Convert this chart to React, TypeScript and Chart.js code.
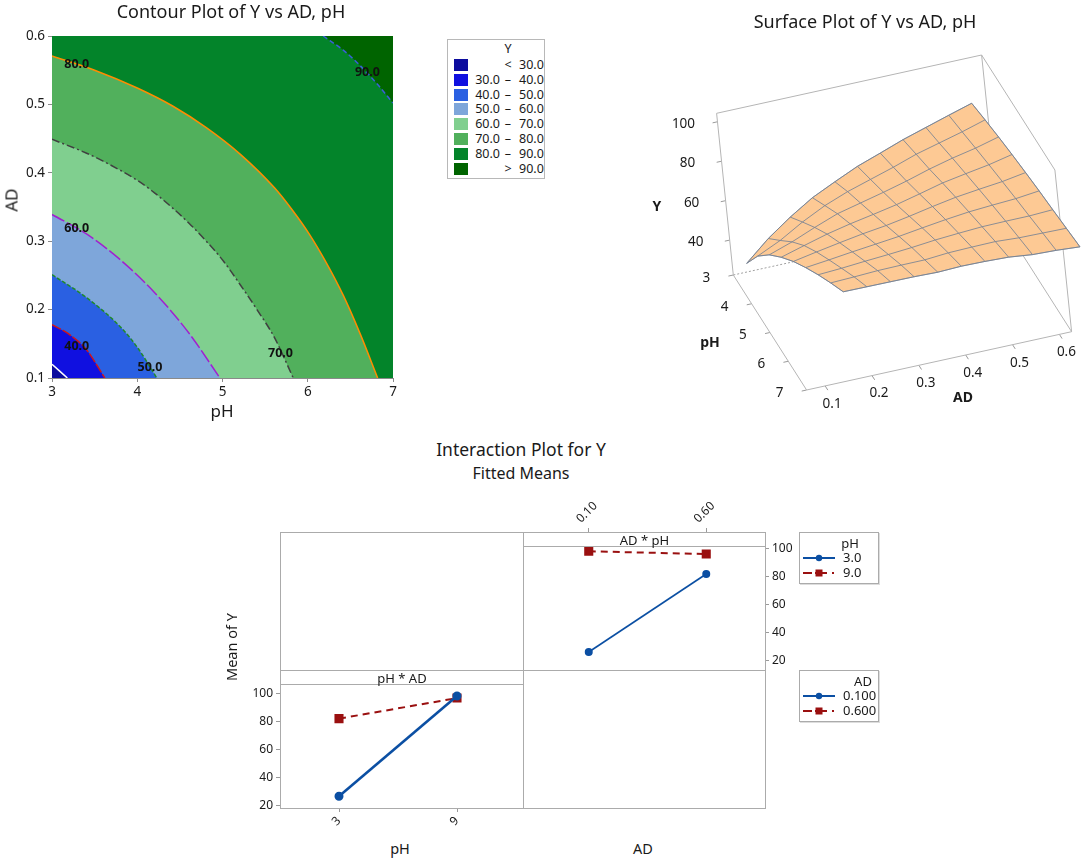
import { useEffect, useRef } from "react"
import { Chart, registerables, type ChartConfiguration, type Plugin } from "chart.js"

Chart.register(...registerables)

const FONT = "'Noto Sans', 'Open Sans', sans-serif"
const INK = "#1a1a1a"
const FRAME = "#ababab"

// ---------- contour plot (pH on x, AD on y), lines
const PH_TICKS = [3, 4, 5, 6, 7]
const AD_TICKS = [0.1, 0.2, 0.3, 0.4, 0.5, 0.6]

const C30_PH = [3, 3.18]
const C30_AD = [0.12, 0.1]
const C40_PH = [3, 3.2, 3.4, 3.62]
const C40_AD = [0.178, 0.164, 0.142, 0.1]
const C50_PH = [3, 3.4, 3.8, 4.0, 4.23]
const C50_AD = [0.251, 0.218, 0.175, 0.145, 0.1]
const C60_PH = [3, 3.4, 3.8, 4.21, 4.61, 4.97]
const C60_AD = [0.339, 0.311, 0.273, 0.224, 0.165, 0.1]
const C70_PH = [3, 3.4, 3.6, 4.0, 4.21, 4.41, 4.61, 4.81, 5.01, 5.21, 5.41, 5.61, 5.83]
const C70_AD = [0.449, 0.429, 0.417, 0.389, 0.370, 0.349, 0.326, 0.300, 0.271, 0.236, 0.199, 0.159, 0.1]
const C80_PH = [3, 3.5, 4.0, 4.41, 4.81, 5.21, 5.61, 5.81, 6.02, 6.22, 6.42, 6.62, 6.82]
const C80_AD = [0.571, 0.550, 0.524, 0.498, 0.466, 0.427, 0.378, 0.347, 0.310, 0.268, 0.220, 0.163, 0.1]
const C90_PH = [6.18, 6.42, 6.58, 6.82, 7]
const C90_AD = [0.6, 0.579, 0.561, 0.529, 0.502]

const LABEL_TEXT = ["80.0", "90.0", "60.0", "40.0", "50.0", "70.0"]
const LABEL_PH = [3.29, 6.7, 3.29, 3.29, 4.15, 5.68]
const LABEL_AD = [0.559, 0.546, 0.318, 0.146, 0.115, 0.136]

const BAND_COLORS = ["#0c0c9e", "#1010e0", "#2a60e2", "#7ea6da", "#80cf8f", "#51b05c", "#03842a", "#006400"]
const LEGEND_LO = ["", "30.0", "40.0", "50.0", "60.0", "70.0", "80.0", ""]
const LEGEND_SYM = ["<", "–", "–", "–", "–", "–", "–", ">"]
const LEGEND_HI = ["30.0", "40.0", "50.0", "60.0", "70.0", "80.0", "90.0", "90.0"]

// ---------- surface plot grid: Y at pH (columns) x AD (rows)
const SURF_PH = [3, 3.5, 4, 4.5, 5, 5.5, 6, 6.5, 7]
const SURF_AD = [0.1, 0.15, 0.2, 0.25, 0.3, 0.35, 0.4, 0.45, 0.5, 0.55, 0.6]
const SURF_Y = [
  [26.0, 37.3, 46.2, 53.6, 60.3, 66.2, 71.7, 76.8, 81.6],
  [35.2, 42.8, 50.6, 57.5, 63.3, 68.5, 73.5, 78.4, 82.8],
  [43.0, 49.4, 55.6, 61.3, 66.2, 70.9, 75.5, 80.1, 84.0],
  [50.0, 55.2, 60.3, 64.6, 69.0, 73.2, 77.4, 81.5, 85.2],
  [55.6, 60.0, 63.8, 67.6, 71.5, 75.5, 79.4, 82.8, 86.2],
  [61.0, 64.1, 67.3, 70.7, 74.4, 78.1, 81.6, 84.8, 87.8],
  [65.5, 68.2, 71.0, 74.2, 77.5, 80.6, 83.5, 86.3, 88.9],
  [70.1, 72.6, 75.0, 77.8, 80.4, 82.9, 85.3, 87.7, 89.8],
  [74.2, 76.3, 78.6, 80.7, 82.8, 84.8, 86.7, 88.4, 90.0],
  [78.3, 80.0, 81.8, 83.5, 85.1, 86.6, 88.0, 89.5, 90.9],
  [82.3, 84.0, 85.5, 86.8, 87.9, 88.9, 89.7, 90.6, 91.5],
]
const SURF_Y_TICKS = [40, 60, 80, 100]
const SURF_AD_TICKS = [0.1, 0.2, 0.3, 0.4, 0.5, 0.6]

// ---------- interaction plot (fitted means)
const PH_LEVELS = ["3", "9"]
const AD_LEVELS = ["0.10", "0.60"]
const MEAN_AD_010 = [26.6, 98.4]
const MEAN_AD_060 = [82.2, 96.9]
const MEAN_PH_3 = [26.1, 81.9]
const MEAN_PH_9 = [98.2, 96.2]
const MEAN_TICKS = [20, 40, 60, 80, 100]

const BLUE = "#0b4fa3"
const RED = "#9a1010"

type Txt = { text: string; x: number; y: number; font: string; align?: CanvasTextAlign; color?: string }

function textPlugin(id: string, items: Txt[]): Plugin {
  return {
    id,
    afterDatasetsDraw(chart) {
      const { ctx, scales } = chart
      ctx.save()
      for (const t of items) {
        ctx.font = t.font
        ctx.fillStyle = t.color ?? INK
        ctx.textAlign = t.align ?? "center"
        ctx.textBaseline = "middle"
        ctx.fillText(t.text, scales.x.getPixelForValue(t.x), scales.y.getPixelForValue(t.y))
      }
      ctx.restore()
    },
  }
}

const pts = (xs: number[], ys: number[]) => xs.map((x, i) => ({ x, y: ys[i] }))

function ChartCanvas({ left, top, width, height, make }: { left: number; top: number; width: number; height: number; make: () => ChartConfiguration }) {
  const ref = useRef<HTMLCanvasElement>(null)
  useEffect(() => {
    if (!ref.current) return
    Chart.getChart(ref.current)?.destroy()
    const chart = new Chart(ref.current, make())
    return () => chart.destroy()
  }, [])
  return <canvas ref={ref} width={width} height={height} style={{ position: "absolute", left, top, width, height }} />
}

const baseOpts = {
  responsive: false,
  animation: false as const,
  events: [] as any[],
  plugins: { legend: { display: false }, tooltip: { enabled: false } },
}

// ---------- contour
function contourConfig(): ChartConfiguration {
  const line = (data: any, bg: string, fill: any, color: string, dash: number[], order: number, width = 1.5) => ({
    type: "line" as const,
    data,
    backgroundColor: bg,
    borderColor: color,
    borderWidth: width,
    borderDash: dash,
    fill,
    order,
    pointRadius: 0,
    cubicInterpolationMode: "monotone" as const,
  })
  const fixTicks = (vals: number[]) => (s: any) => { s.ticks = vals.map(v => ({ value: v })) }
  return {
    type: "line",
    data: {
      datasets: [
        line(pts([3, 7], [0.6, 0.6]), BAND_COLORS[6], "start", "rgba(0,0,0,0)", [], 10, 0),
        line(pts(C90_PH, C90_AD), BAND_COLORS[7], "end", "#3a5fd9", [5, 3], 9),
        line(pts(C80_PH, C80_AD), BAND_COLORS[5], "start", "#ff8c00", [], 8),
        line(pts(C70_PH, C70_AD), BAND_COLORS[4], "start", "#404040", [8, 3, 2, 3], 7),
        line(pts(C60_PH, C60_AD), BAND_COLORS[3], "start", "#a020d0", [14, 3], 6),
        line(pts(C50_PH, C50_AD), BAND_COLORS[2], "start", "#1f8a2a", [4, 2], 5),
        line(pts(C40_PH, C40_AD), BAND_COLORS[1], "start", "#d0161a", [10, 2], 4),
        line(pts(C30_PH, C30_AD), BAND_COLORS[0], "start", "#ffffff", [], 3),
      ],
    },
    options: {
      ...baseOpts,
      layout: { padding: { top: 36, right: 17, left: 0, bottom: 0 } },
      scales: {
        x: {
          type: "linear", min: 3, max: 7,
          afterBuildTicks: fixTicks(PH_TICKS),
          afterFit: (s: any) => { s.height = 62; s.paddingLeft = 0; s.paddingRight = 0 },
          ticks: { font: { family: FONT, size: 13.5 }, color: INK, padding: 2 },
          grid: { drawOnChartArea: false, tickLength: 4, color: "#8a8a8a" },
          border: { color: "#8a8a8a" },
        },
        y: {
          type: "linear", min: 0.1, max: 0.6,
          afterBuildTicks: fixTicks(AD_TICKS),
          afterFit: (s: any) => { s.width = 52; s.paddingTop = 0; s.paddingBottom = 0 },
          ticks: { font: { family: FONT, size: 13.5 }, color: INK, padding: 3, callback: (v: any) => Number(v).toFixed(1) },
          grid: { drawOnChartArea: false, tickLength: 4, color: "#8a8a8a" },
          border: { color: "#8a8a8a" },
        },
      },
    } as any,
    plugins: [
      textPlugin("contourLabels", LABEL_TEXT.map((t, i) => ({ text: t, x: LABEL_PH[i], y: LABEL_AD[i], font: `bold 12.5px ${FONT}`, color: "#111" }))),
    ],
  }
}

// ---------- surface: two projections, one for the frame box, one for the surface
const BOX_P1 = { x: 733.3, y: 275 }
const BOX_U = { x: 73.3, y: 115 }
const BOX_V = { x: 265, y: -58.3 }
const BOX_W = { x: -16.7, y: -161.7 }
const boxPt = (pf: number, af: number, yf: number) => ({
  x: BOX_P1.x + pf * BOX_U.x + af * BOX_V.x + yf * BOX_W.x,
  y: BOX_P1.y + pf * BOX_U.y + af * BOX_V.y + yf * BOX_W.y,
})
const boxAf = (ad: number) => 0.07 + (ad - 0.1) * 1.768
const boxYf = (v: number) => (v - 22.3) / 82

const SURF_O = { x: 747.7, y: 273.3 }
const SURF_U = { x: 110.6, y: 166.4 }
const SURF_V = { x: 239.2, y: -20.4 }
const SURF_W = { x: -20.7, y: -203.5 }
const surfPt = (ph: number, ad: number, v: number) => {
  const pf = (ph - 3) / 4, af = (ad - 0.1) / 0.5, yf = (v - 22) / 82
  return {
    x: SURF_O.x + pf * SURF_U.x + af * SURF_V.x + yf * SURF_W.x,
    y: SURF_O.y + pf * SURF_U.y + af * SURF_V.y + yf * SURF_W.y,
  }
}

function surfaceConfig(): ChartConfiguration {
  const seg = (data: any[], color: string, width: number, order: number, dash: number[] = []) => ({
    type: "line" as const, data, borderColor: color, borderWidth: width, borderDash: dash,
    pointRadius: 0, fill: false, order, tension: 0,
  })
  const sets: any[] = []
  const edges: [number[], number[]][] = [
    [[0, 0, 1], [0, 1, 1]], [[0, 1, 1], [1, 1, 1]], [[1, 1, 1], [1, 1, 0]], [[0, 0, 1], [0, 0, 0]],
    [[0, 0, 0], [1, 0, 0]], [[1, 0, 0], [1, 1, 0]], [[0, 1, 0], [1, 1, 0]], [[0, 1, 1], [0, 1, 0]],
  ]
  for (const [a, b] of edges) sets.push(seg([boxPt(a[0], a[1], a[2]), boxPt(b[0], b[1], b[2])], "#b5b5b5", 1, 30))
  sets.push(seg([boxPt(0, 0, 0), boxPt(0, 1, 0)], "#a0a0a0", 1, 30, [2, 2]))

  const vLen = Math.hypot(BOX_V.x, BOX_V.y), uLen = Math.hypot(BOX_U.x, BOX_U.y)
  const left = { x: -BOX_V.x / vLen, y: -BOX_V.y / vLen }
  const down = { x: BOX_U.x / uLen, y: BOX_U.y / uLen }
  const labels: Txt[] = []
  const f13 = `13.5px ${FONT}`
  for (const ph of PH_TICKS) {
    const p = boxPt((ph - 3) / 4, 0, 0)
    sets.push(seg([p, { x: p.x + left.x * 5, y: p.y + left.y * 5 }], "#9a9a9a", 1, 30))
    labels.push({ text: String(ph), x: p.x - 27, y: p.y + 3, font: f13 })
  }
  for (const ad of SURF_AD_TICKS) {
    const p = boxPt(1, boxAf(ad), 0)
    sets.push(seg([p, { x: p.x + down.x * 5, y: p.y + down.y * 5 }], "#9a9a9a", 1, 30))
    labels.push({ text: ad.toFixed(1), x: p.x + 7, y: p.y + 18, font: f13 })
  }
  for (const v of SURF_Y_TICKS) {
    const p = boxPt(0, 0, boxYf(v))
    sets.push(seg([p, { x: p.x + left.x * 5, y: p.y + left.y * 5 }], "#9a9a9a", 1, 30))
    labels.push({ text: String(v), x: p.x - 34, y: p.y + 2, font: f13 })
  }
  const b13 = `bold 14px ${FONT}`
  labels.push({ text: "Y", x: 657, y: 207, font: b13 })
  labels.push({ text: "pH", x: 710, y: 343, font: b13 })
  labels.push({ text: "AD", x: 963, y: 398, font: b13 })

  const nP = SURF_PH.length, nA = SURF_AD.length
  const perim: any[] = []
  SURF_PH.forEach((ph, i) => perim.push(surfPt(ph, SURF_AD[0], SURF_Y[0][i])))
  SURF_AD.forEach((ad, j) => perim.push(surfPt(SURF_PH[nP - 1], ad, SURF_Y[j][nP - 1])))
  for (let i = nP - 1; i >= 0; i--) perim.push(surfPt(SURF_PH[i], SURF_AD[nA - 1], SURF_Y[nA - 1][i]))
  for (let j = nA - 1; j >= 0; j--) perim.push(surfPt(SURF_PH[0], SURF_AD[j], SURF_Y[j][0]))
  sets.push({ ...seg(perim, "#8d8f96", 0.8, 20), fill: "shape", backgroundColor: "#fdc994" })

  SURF_PH.forEach((ph, i) => sets.push(seg(SURF_AD.map((ad, j) => surfPt(ph, ad, SURF_Y[j][i])), "#6f7d93", 0.8, 10)))
  SURF_AD.forEach((ad, j) => sets.push(seg(SURF_PH.map((ph, i) => surfPt(ph, ad, SURF_Y[j][i])), "#6f7d93", 0.8, 10)))

  return {
    type: "line",
    data: { datasets: sets },
    options: {
      ...baseOpts,
      layout: { padding: 0 },
      scales: {
        x: { type: "linear", display: false, min: 600, max: 1084 },
        y: { type: "linear", display: false, min: 0, max: 420, reverse: true },
      },
    } as any,
    plugins: [textPlugin("surfaceLabels", labels)],
  }
}

// ---------- interaction panels
function panelConfig(labels: string[], blue: number[], red: number[], xPos: "top" | "bottom", yPos: "left" | "right", blueWidth: number): ChartConfiguration {
  const tickFont = { family: FONT, size: 12 }
  return {
    type: "line",
    data: {
      labels,
      datasets: [
        { data: red, borderColor: RED, backgroundColor: RED, borderWidth: 2, borderDash: [7, 5], pointStyle: "rect", pointRadius: 5, order: 2 },
        { data: blue, borderColor: BLUE, backgroundColor: BLUE, borderWidth: blueWidth, pointStyle: "circle", pointRadius: 3.2, order: 1 },
      ],
    },
    options: {
      ...baseOpts,
      layout: { padding: 0 },
      scales: {
        x: {
          type: "category", position: xPos, offset: true,
          afterFit: (s: any) => { s.height = xPos === "top" ? 42 : 32; s.paddingLeft = 0; s.paddingRight = 0 },
          ticks: { font: tickFont, color: INK, minRotation: 45, maxRotation: 45, padding: 2 },
          grid: { drawOnChartArea: false, tickLength: 4, color: "#9a9a9a" },
          border: { display: false },
        },
        y: {
          type: "linear", position: yPos, min: 18.2, max: 112,
          afterBuildTicks: (s: any) => { s.ticks = MEAN_TICKS.map(v => ({ value: v })) },
          afterFit: (s: any) => { s.width = yPos === "left" ? 44 : 35; s.paddingTop = 0; s.paddingBottom = 0 },
          ticks: { font: tickFont, color: INK, padding: 3 },
          grid: { drawOnChartArea: false, tickLength: 4, color: "#9a9a9a" },
          border: { display: false },
        },
      },
    } as any,
  }
}

const abs = (left: number, top: number, extra: any = {}) => ({ position: "absolute" as const, left, top, ...extra })

function LegendSymbol({ kind }: { kind: "blue" | "red" }) {
  return (
    <svg width={34} height={10} style={abs(0, 0)}>
      {kind === "blue" ? (
        <>
          <line x1={0} y1={5} x2={32} y2={5} stroke={BLUE} strokeWidth={2} />
          <circle cx={16} cy={5} r={3.2} fill={BLUE} />
        </>
      ) : (
        <>
          <line x1={0} y1={5} x2={9} y2={5} stroke={RED} strokeWidth={2} />
          <line x1={12} y1={5} x2={24} y2={5} stroke={RED} strokeWidth={2} />
          <rect x={12.5} y={1.5} width={7} height={7} fill={RED} />
          <line x1={29} y1={5} x2={31} y2={5} stroke={RED} strokeWidth={2} />
        </>
      )}
    </svg>
  )
}

function FactorLegend({ top, title, titleX, rows }: { top: number; title: string; titleX: number; rows: string[] }) {
  return (
    <div style={abs(799, top, { width: 78, height: 50, border: `1px solid ${FRAME}`, background: "#fff", boxShadow: "1px 1px 0 #ddd" })}>
      <div style={abs(titleX, 3, { fontSize: 13, transform: "translateX(-50%)", lineHeight: "14px" })}>{title}</div>
      {rows.map((r, i) => (
        <div key={r} style={abs(3, 19 + i * 15, { width: 76, height: 12 })}>
          <div style={abs(0, 1)}><LegendSymbol kind={i === 0 ? "blue" : "red"} /></div>
          <div style={abs(40, -2, { fontSize: 13, lineHeight: "15px" })}>{r}</div>
        </div>
      ))}
    </div>
  )
}

function Text({ x, y, size, children, rotate = 0, weight = 400 }: any) {
  return (
    <div style={abs(x, y, { fontSize: size, fontWeight: weight, whiteSpace: "nowrap", transform: `translate(-50%, -50%) rotate(${rotate}deg)`, lineHeight: 1 })}>
      {children}
    </div>
  )
}

export default function App() {
  return (
    <div style={{ position: "absolute", left: 0, top: 0, width: 1084, height: 858, background: "#fff", fontFamily: FONT, color: INK, overflow: "hidden" }}>
      {/* contour plot */}
      <ChartCanvas left={0} top={0} width={410} height={440} make={contourConfig} />
      <Text x={231} y={11} size={18}>Contour Plot of Y vs AD, pH</Text>
      <Text x={222} y={410} size={17}>pH</Text>
      <Text x={11} y={200} size={17} rotate={-90}>AD</Text>

      <div style={abs(447, 39, { width: 96, height: 138, border: "1px solid #b8b8b8", background: "#fff", fontSize: 12.5 })}>
        <div style={abs(60, 2, { transform: "translateX(-50%)", lineHeight: "14px" })}>Y</div>
        {BAND_COLORS.map((c, i) => (
          <div key={c} style={abs(0, 18 + i * 14.8, { width: 96, height: 14 })}>
            <div style={abs(6, 1, { width: 14, height: 12, background: c })} />
            <div style={abs(0, -1, { width: 52, textAlign: "right", lineHeight: "15px" })}>{LEGEND_LO[i]}</div>
            <div style={abs(55, -1, { width: 10, textAlign: "center", lineHeight: "15px" })}>{LEGEND_SYM[i]}</div>
            <div style={abs(71, -1, { lineHeight: "15px" })}>{LEGEND_HI[i]}</div>
          </div>
        ))}
      </div>

      {/* surface plot */}
      <ChartCanvas left={600} top={0} width={484} height={420} make={surfaceConfig} />
      <Text x={865} y={21} size={18}>Surface Plot of Y vs AD, pH</Text>

      {/* interaction plot */}
      <Text x={521} y={450} size={17.5}>Interaction Plot for Y</Text>
      <Text x={521} y={473} size={16}>Fitted Means</Text>
      <Text x={231} y={647} size={14.5} rotate={-90}>Mean of Y</Text>
      <Text x={400} y={848} size={14.5}>pH</Text>
      <Text x={643} y={848} size={14.5}>AD</Text>

      <ChartCanvas left={236} top={670} width={287} height={170}
        make={() => panelConfig(PH_LEVELS, MEAN_AD_010, MEAN_AD_060, "bottom", "left", 2.6)} />
      <ChartCanvas left={523} top={490} width={277} height={180}
        make={() => panelConfig(AD_LEVELS, MEAN_PH_3, MEAN_PH_9, "top", "right", 1.6)} />

      <div style={abs(280, 532, { width: 484, height: 275, border: `1px solid ${FRAME}` })} />
      <div style={abs(523, 532, { width: 1, height: 277, background: FRAME })} />
      <div style={abs(280, 670, { width: 486, height: 1, background: FRAME })} />
      <div style={abs(281, 671, { width: 242, height: 13, background: "#fff", borderBottom: `1px solid ${FRAME}`, fontSize: 13, textAlign: "center", lineHeight: "14px" })}>pH * AD</div>
      <div style={abs(524, 533, { width: 241, height: 13, background: "#fff", borderBottom: `1px solid ${FRAME}`, fontSize: 13, textAlign: "center", lineHeight: "14px" })}>AD * pH</div>

      <FactorLegend top={532} title="pH" titleX={50} rows={["3.0", "9.0"]} />
      <FactorLegend top={670} title="AD" titleX={63} rows={["0.100", "0.600"]} />
    </div>
  )
}
